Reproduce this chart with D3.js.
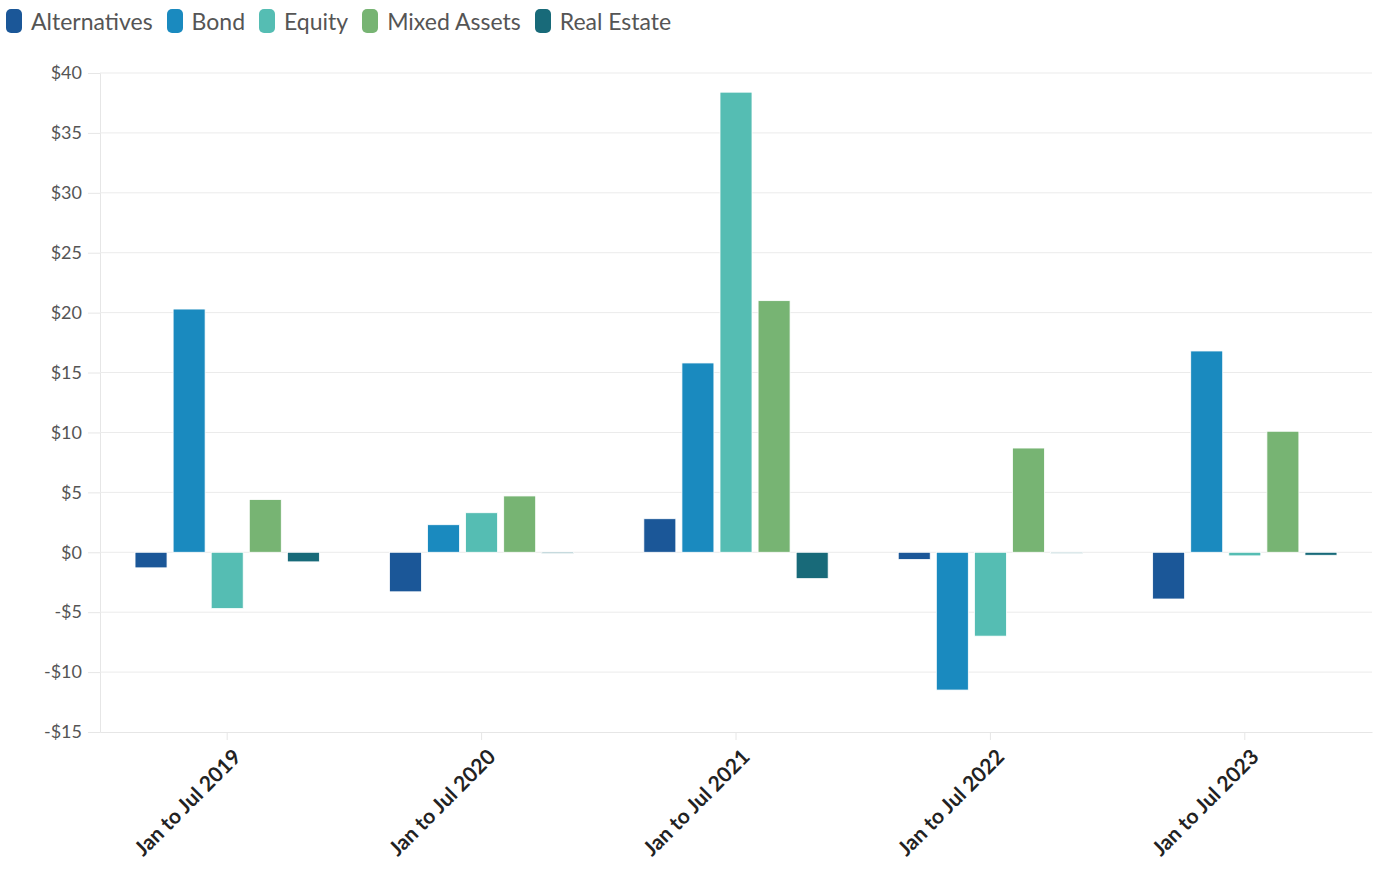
<!DOCTYPE html>
<html>
<head>
<meta charset="utf-8">
<script src="https://cdn.jsdelivr.net/npm/d3@7"></script>
<style>
  body { margin: 0; background: #fff; font-family: Lato, "Open Sans", sans-serif; }
  .legend { position: absolute; left: 6px; top: 7px; display: flex; }
  .legend-item { display: flex; align-items: center; margin-right: 14px; font-size: 23px; color: #555; }
  .legend-item span.sw { width: 16px; height: 24px; border-radius: 5px; margin-right: 9px; display: inline-block; }
</style>
</head>
<body>
<div class="legend" id="legend"></div>
<div id="chart"></div>
<script>
/* Datos (miles de millones, $) */
const periods = ['Jan to Jul 2019', 'Jan to Jul 2020', 'Jan to Jul 2021', 'Jan to Jul 2022', 'Jan to Jul 2023'];
const assetClasses = ['Alternatives', 'Bond', 'Equity', 'Mixed Assets', 'Real Estate'];
const alternatives = [-1.3, -3.3, 2.8, -0.6, -3.9];
const bond = [20.3, 2.3, 15.8, -11.5, 16.8];
const equity = [-4.7, 3.3, 38.4, -7.0, -0.3];
const mixedAssets = [4.4, 4.7, 21.0, 8.7, 10.1];
const realEstate = [-0.8, -0.1, -2.2, -0.05, -0.25];
const yTicks = [40, 35, 30, 25, 20, 15, 10, 5, 0, -5, -10, -15];
const colors = ['#1b5798', '#1a8abf', '#55bdb3', '#77b473', '#186a79'];

const series = [alternatives, bond, equity, mixedAssets, realEstate];

const w = 1377;
const h = 875;
const margin = { top: 73, right: 5, bottom: 143, left: 100 };

const svg = d3.select('#chart')
  .append('svg')
  .attr('width', w)
  .attr('height', h)
  .style('display', 'block');

const x = d3.scaleBand()
  .domain(periods)
  .range([margin.left, w - margin.right]);

const xInner = d3.scaleBand()
  .domain(assetClasses)
  .range([0, x.bandwidth()])
  .paddingInner(0.16)
  .paddingOuter(0.92);

const y = d3.scaleLinear()
  .domain([-15, 40])
  .range([h - margin.bottom, margin.top]);

const color = d3.scaleOrdinal().domain(assetClasses).range(colors);

/* Rejilla y eje Y */
const yAxis = svg.append('g')
  .attr('transform', `translate(${margin.left},0)`)
  .call(d3.axisLeft(y).tickValues(yTicks).tickSize(12).tickPadding(6)
    .tickFormat(d => (d < 0 ? '-$' : '$') + Math.abs(d)));
yAxis.select('.domain').attr('stroke', '#e6e6e6');
yAxis.selectAll('.tick line').attr('stroke', '#e6e6e6');
yAxis.selectAll('.tick text')
  .attr('fill', '#555')
  .style('font-size', '18px')
  .style('font-family', 'Lato, sans-serif');

svg.append('g')
  .selectAll('line')
  .data(yTicks.filter(d => d !== -15))
  .join('line')
  .attr('x1', margin.left)
  .attr('x2', w - margin.right)
  .attr('y1', d => y(d))
  .attr('y2', d => y(d))
  .attr('stroke', '#ebebeb');

/* Eje X */
const xAxis = svg.append('g')
  .attr('transform', `translate(0,${y(-15)})`)
  .call(d3.axisBottom(x).tickSize(8).tickSizeOuter(0));
xAxis.select('.domain').attr('stroke', '#e6e6e6');
xAxis.selectAll('.tick line').attr('stroke', '#e6e6e6');
xAxis.selectAll('.tick text')
  .attr('fill', '#222')
  .style('font-size', '21px')
  .style('font-weight', 'bold')
  .style('font-family', 'Lato, sans-serif')
  .attr('text-anchor', 'end')
  .attr('x', 0)
  .attr('y', 0)
  .attr('dy', '0.35em')
  .attr('transform', 'translate(10,21) rotate(-45)');

/* Barras */
const groups = svg.append('g')
  .selectAll('g')
  .data(periods)
  .join('g')
  .attr('transform', d => `translate(${x(d)},0)`);

groups.selectAll('rect')
  .data((p, i) => assetClasses.map((c, j) => ({ cls: c, value: series[j][i] })))
  .join('rect')
  .attr('x', d => xInner(d.cls))
  .attr('width', xInner.bandwidth())
  .attr('y', d => y(Math.max(0, d.value)))
  .attr('height', d => Math.max(1, Math.abs(y(d.value) - y(0))))
  .attr('fill', d => color(d.cls))
  .attr('stroke', '#fff')
  .attr('stroke-width', 0.8);

/* Leyenda */
const legend = d3.select('#legend')
  .selectAll('div')
  .data(assetClasses)
  .join('div')
  .attr('class', 'legend-item');
legend.append('span').attr('class', 'sw').style('background', d => color(d));
legend.append('span').text(d => d);
</script>
</body>
</html>
